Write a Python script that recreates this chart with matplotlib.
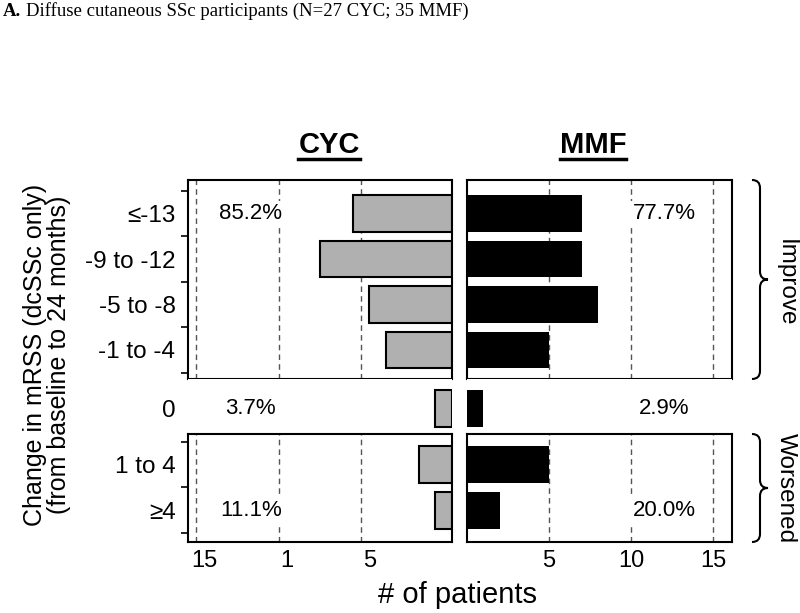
import numpy as np
import matplotlib
matplotlib.use('Agg')
import matplotlib.pyplot as plt
from matplotlib.path import Path
from matplotlib.patches import PathPatch

plt.rcParams['font.family'] = ['Liberation Sans', 'DejaVu Sans']

# Change in mRSS categories and patient counts
improve_labels = ['≤-13', '-9 to -12', '-5 to -8', '-1 to -4']
cyc_improve = [6, 8, 5, 4]
mmf_improve = [7, 7, 8, 5]

zero_labels = ['0']
cyc_zero = [1]
mmf_zero = [1]

worse_labels = ['1 to 4', '≥4']
cyc_worse = [2, 1]
mmf_worse = [5, 2]

# percentages printed in each block (improve, no change, worsened)
cyc_pct = ['85.2%', '3.7%', '11.1%']
mmf_pct = ['77.7%', '2.9%', '20.0%']

left_ticks = [15, 10, 5]
left_ticklabels = ['15', '1', '5']
right_ticks = [5, 10, 15]
right_ticklabels = ['5', '10', '15']

W, H = 800, 613
fig = plt.figure(figsize=(W / 100, H / 100), dpi=100)


def box(x0, y0, x1, y1):
    return [x0 / W, 1 - y1 / H, (x1 - x0) / W, (y1 - y0) / H]


grid_kw = dict(color='#555555', lw=1.0, linestyle=(0, (4, 3)), zorder=0)
txt_bbox = dict(facecolor='white', edgecolor='none', pad=1.5)
bar_h = 0.81


def make_row(y0, y1, ylim, labels, cyc, mmf, pct_l, pct_r, pct_row, framed, xlabels):
    axl = fig.add_axes(box(188, y0, 452, y1))
    axr = fig.add_axes(box(467, y0, 732, y1))
    pos = np.arange(len(labels))
    axl.barh(pos, cyc, height=bar_h, color='#b0b0b0', edgecolor='black', lw=1.5, zorder=2)
    axr.barh(pos, mmf, height=bar_h, color='black', edgecolor='black', lw=0, zorder=2)
    axl.set_xlim(16.0, 0)
    axr.set_xlim(0, 16.15)
    for ax in (axl, axr):
        ax.set_ylim(*ylim)
        for s in ax.spines.values():
            s.set_linewidth(1.5)
            s.set_visible(framed)
        ax.tick_params(axis='x', length=0, labelsize=17, pad=6)
    if framed:
        for g in [5.5, 10.5, 15.5]:
            axl.axvline(g, **grid_kw)
        for g in [5, 10, 15]:
            axr.axvline(g, **grid_kw)
    axl.set_yticks(pos)
    axl.set_yticklabels(labels, fontsize=17.5)
    axl.tick_params(axis='y', length=0, pad=9)
    if framed:
        bounds = np.arange(len(labels) + 1) - 0.5
        bounds = bounds[(bounds > min(ylim)) & (bounds < max(ylim))]
        axl.set_yticks(bounds, minor=True)
        axl.tick_params(axis='y', which='minor', length=5, width=1.2)
    axr.set_yticks([])
    if xlabels:
        axl.set_xticks(left_ticks)
        axl.set_xticklabels(left_ticklabels)
        axr.set_xticks(right_ticks)
        axr.set_xticklabels(right_ticklabels)
    else:
        axl.set_xticks([])
        axr.set_xticks([])
    axl.text(12.2, pct_row, pct_l, fontsize=16, ha='center', va='center', bbox=txt_bbox, zorder=3)
    axr.text(12.0, pct_row, pct_r, fontsize=16, ha='center', va='center', bbox=txt_bbox, zorder=3)
    return axl, axr


make_row(180, 379, (3.64, -0.74), improve_labels, cyc_improve, mmf_improve,
         cyc_pct[0], mmf_pct[0], 0, True, False)
make_row(379, 434, (0.57, -0.64), zero_labels, cyc_zero, mmf_zero,
         cyc_pct[1], mmf_pct[1], 0, False, False)
make_row(434, 542, (1.70, -0.67), worse_labels, cyc_worse, mmf_worse,
         cyc_pct[2], mmf_pct[2], 1, True, True)

# panel headers
fig.text(329 / W, 1 - 145 / H, 'CYC', fontsize=21, fontweight='bold', ha='center', va='center')
fig.text(593 / W, 1 - 145 / H, 'MMF', fontsize=21, fontweight='bold', ha='center', va='center')
for x0, x1 in [(298, 360), (560, 626)]:
    fig.add_artist(plt.Line2D([x0 / W, x1 / W], [1 - 159 / H, 1 - 159 / H], color='black', lw=2.5))

fig.text(458 / W, 1 - 595 / H, '# of patients', fontsize=21, ha='center', va='center')
fig.text(47 / W, 1 - 355 / H, 'Change in mRSS (dcSSc only)\n(from baseline to 24 months)',
         fontsize=18, rotation=90, ha='center', va='center', multialignment='center', linespacing=1.05)

fig.text(3 / W, 1 - 11 / H, 'A.', fontsize=13.5, fontweight='bold', family='Liberation Serif',
         ha='left', va='center')
fig.text(26 / W, 1 - 11 / H, 'Diffuse cutaneous SSc participants (N=27 CYC; 35 MMF)', fontsize=13.5,
         family='Liberation Serif', ha='left', va='center')


def brace(x, y0, y1, w=16, r=8):
    ym = (y0 + y1) / 2
    xm = x + w / 2
    pts = [(x, y0), (xm, y0), (xm, y0 + r), (xm, ym - r), (xm, ym), (x + w, ym),
           (xm, ym), (xm, ym + r), (xm, y1 - r), (xm, y1), (x, y1)]
    codes = [Path.MOVETO, Path.CURVE3, Path.CURVE3, Path.LINETO, Path.CURVE3, Path.CURVE3,
             Path.CURVE3, Path.CURVE3, Path.LINETO, Path.CURVE3, Path.CURVE3]
    pts = [(px / W, 1 - py / H) for px, py in pts]
    fig.add_artist(PathPatch(Path(pts, codes), fill=False, lw=1.5, transform=fig.transFigure))


brace(752, 180, 379)
brace(752, 434, 542)
fig.text(786 / W, 1 - 283 / H, 'Improve', fontsize=17.5, rotation=-90, ha='center', va='center')
fig.text(786 / W, 1 - 488 / H, 'Worsened', fontsize=17.5, rotation=-90, ha='center', va='center')

fig.savefig('out.png', dpi=100)
